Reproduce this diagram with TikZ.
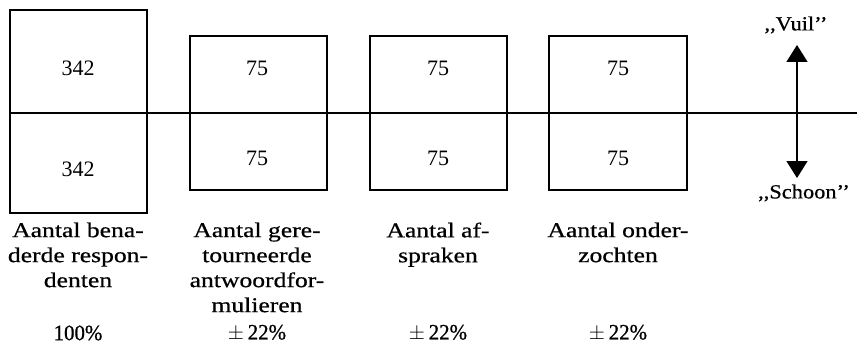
\documentclass[tikz,border=0pt]{standalone}
\usepackage{fontspec}
\setmainfont{Liberation Serif}
\newfontfamily\wideserif[FakeStretch=1.22,FakeBold=0.6]{Liberation Serif}
\newfontfamily\midserif[FakeStretch=1.12,FakeBold=0.6]{Liberation Serif}
\newfontfamily\pctserif[FakeStretch=0.95,FakeBold=0.8]{Liberation Serif}
\usetikzlibrary{arrows.meta}
\begin{document}
\begin{tikzpicture}[x=1pt,y=-1pt,
  box/.style={draw,line width=1.2pt},
  num/.style={font=\fontsize{22}{24}\selectfont},
  lab/.style={font=\wideserif\fontsize{21}{25}\selectfont,align=center,anchor=north},
  quote/.style={font=\midserif\fontsize{20}{25}\selectfont},
  pct/.style={font=\pctserif\fontsize{22}{25}\selectfont},
  arr/.style={line width=1.5pt,-{Triangle[width=21pt,length=17pt]}}]
\useasboundingbox (0,0) rectangle (857,345);
% horizontal axis
\coordinate (L) at (10,113);
\coordinate (R) at (857,113);
\draw[line width=1.2pt] (L) -- (R);
% boxes
\node[box,minimum width=137pt,minimum height=203pt,inner sep=0pt] (b1) at (78.5,111.5) {};
\node[box,minimum width=137pt,minimum height=154pt,inner sep=0pt] (b2) at (258.5,113) {};
\node[box,minimum width=137pt,minimum height=154pt,inner sep=0pt] (b3) at (438.5,113) {};
\node[box,minimum width=138pt,minimum height=154pt,inner sep=0pt] (b4) at (618,113) {};
% numbers
\node[num] (n1a) at (78,68) {342};
\node[num] (n1b) at (78,169) {342};
\node[num] (n2a) at (257,68) {75};
\node[num] (n2b) at (257,158) {75};
\node[num] (n3a) at (438,68) {75};
\node[num] (n3b) at (438,158) {75};
\node[num] (n4a) at (618,68) {75};
\node[num] (n4b) at (618,158) {75};
% arrows
\coordinate (ac) at (797,113);
\coordinate (at) at (797,45);
\coordinate (ab) at (797,178);
\draw[arr] (ac) -- (at);
\draw[arr] (ac) -- (ab);
\node[quote] (vuil) at (796,25) {,,Vuil’’};
\node[quote] (schoon) at (804,193) {,,Schoon’’};
% labels
\node[lab] (l1) at (78,219) {Aantal bena-\\derde respon-\\denten};
\node[lab] (l2) at (257,219) {Aantal gere-\\tourneerde\\antwoordfor-\\mulieren};
\node[lab] (l3) at (438,219) {Aantal af-\\spraken};
\node[lab] (l4) at (618,219) {Aantal onder-\\zochten};
% percentages
\node[pct] (p1) at (78,333) {100\%};
\node[pct] (p2) at (257,333) {$\pm$\,22\%};
\node[pct] (p3) at (438,333) {$\pm$\,22\%};
\node[pct] (p4) at (618,333) {$\pm$\,22\%};
\end{tikzpicture}
\end{document}
